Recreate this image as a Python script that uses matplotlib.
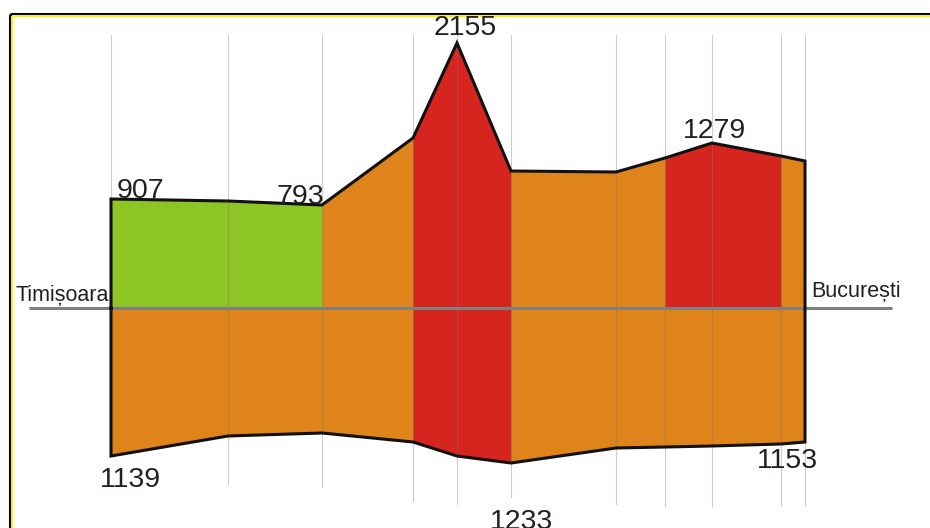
import matplotlib.pyplot as plt
from matplotlib.patches import Rectangle

# stations along the route Timișoara -> București (drawing units)
station_x = [111, 228, 322, 413, 457, 511, 616, 665, 712, 781, 805]
# profile height above the route line and depth below it
upper = [109, 107, 103, 170, 265, 137, 136, 150, 165, 152, 147]
lower = [148, 128, 125, 134, 148, 155, 140, 139, 138, 136, 134]
# class of every segment between two stations
upper_class = ['low', 'low', 'mid', 'high', 'high', 'mid', 'mid', 'high', 'high', 'mid']
lower_class = ['mid', 'mid', 'mid', 'high', 'high', 'mid', 'mid', 'mid', 'mid', 'mid']

top_labels = ['907', '793', '2155', '1279']
top_label_station = [0, 2, 4, 8]
bottom_labels = ['1139', '1233', '1153']
bottom_label_station = [0, 5, 10]
cities = ['Timișoara', 'București']

palette = {'low': '#8DC624', 'mid': '#DE841A', 'high': '#D6251E'}
text_color = '#231F20'
font = ['Liberation Sans', 'DejaVu Sans']

fig = plt.figure(figsize=(9.3, 5.28), dpi=100)

# frame (black outer, yellow inner), cut at right and bottom
frame_ax = fig.add_axes([0, 0, 1, 1])
frame_ax.set_xlim(0, 930)
frame_ax.set_ylim(528, 0)
frame_ax.axis('off')
frame_ax.add_patch(Rectangle((9.5, 13.5), 940, 540, fill=False, ec='black', lw=2.2))
frame_ax.add_patch(Rectangle((12, 16), 940, 540, fill=False, ec='#FFF200', lw=1.5))

ax = fig.add_axes([0, 0, 1, 1])
ax.set_xlim(0, 930)
ax.set_ylim(-220, 308)
ax.axis('off')
ax.patch.set_alpha(0)

# colored segments
for i in range(len(station_x) - 1):
    xs = station_x[i:i + 2]
    ax.fill_between(xs, 0, upper[i:i + 2], color=palette[upper_class[i]], lw=0, zorder=2)
    ax.fill_between(xs, [-v for v in lower[i:i + 2]], 0, color=palette[lower_class[i]], lw=0, zorder=2)

# thin guide lines through every station
guide_depth = [148, 176, 179, 193, 196, 189, 196, 198, 198, 198, 198]
for x, d in zip(station_x, guide_depth):
    ax.plot([x, x], [273, -d], color='black', alpha=0.2, lw=0.8, zorder=3)

# route line
ax.plot([29, 892], [0, 0], color='#7F7F7F', lw=2.2, zorder=4, solid_capstyle='butt')

# outline
outline_x = [station_x[0]] + station_x + [station_x[-1]] + station_x[::-1] + [station_x[0]]
outline_y = [0] + upper + [0] + [-v for v in lower[::-1]] + [0]
ax.plot(outline_x, outline_y, color='#111111', lw=2.2, zorder=5, solid_joinstyle='miter')

# value labels
top_offsets = [(6, 1, 'left'), (2, 1, 'right'), (8, 8, 'center'), (2, 5, 'center')]
for txt, s, (dx, dy, ha) in zip(top_labels, top_label_station, top_offsets):
    ax.text(station_x[s] + dx, upper[s] + dy, txt, ha=ha, va='baseline',
            fontsize=20.5, color=text_color, family=font, zorder=6)

bottom_offsets = [(-11, 31, 'left'), (10, 66, 'center'), (13, 26, 'right')]
for txt, s, (dx, dy, ha) in zip(bottom_labels, bottom_label_station, bottom_offsets):
    ax.text(station_x[s] + dx, -(lower[s] + dy), txt, ha=ha, va='baseline',
            fontsize=20.5, color=text_color, family=font, zorder=6)

# city names at both ends of the route line
ax.text(station_x[0] - 2, 7, cities[0], ha='right', va='baseline',
        fontsize=15.5, color=text_color, family=font, zorder=6)
ax.text(station_x[-1] + 6, 11, cities[1], ha='left', va='baseline',
        fontsize=15.5, color=text_color, family=font, zorder=6)

fig.savefig('out.png', dpi=100)
